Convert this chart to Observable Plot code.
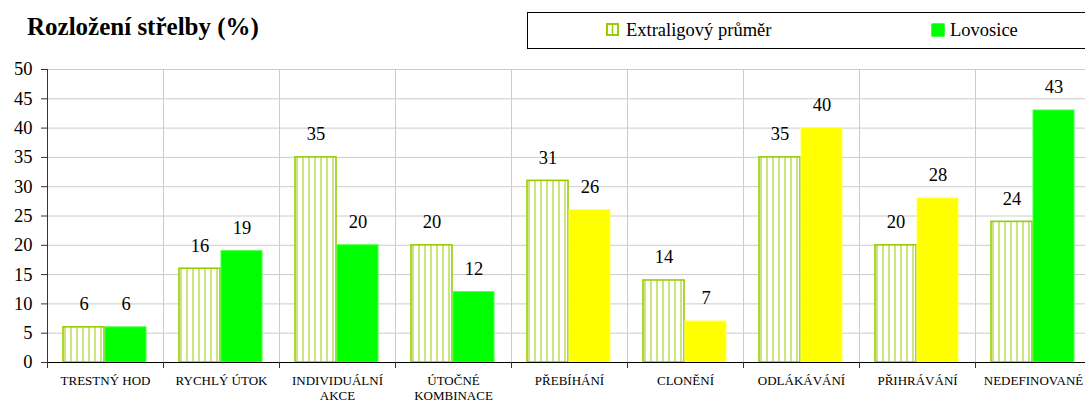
<!DOCTYPE html>
<html>
<head>
<meta charset="utf-8">
<script src="https://cdn.jsdelivr.net/npm/d3@7"></script>
<script src="https://cdn.jsdelivr.net/npm/@observablehq/plot@0.6"></script>
<style>
  html, body { margin: 0; padding: 0; background: #fff; overflow: hidden; width: 1085px; height: 403px; }
  #wrap { position: relative; width: 1085px; height: 403px; font-family: "Liberation Serif", "Times New Roman", serif; color: #000; }
  #title { position: absolute; left: 27px; top: 14px; font-size: 25px; line-height: 1; font-weight: bold; white-space: nowrap; }
  #legend { position: absolute; left: 527px; top: 12px; width: 620px; height: 37px; border: 1px solid #000; box-sizing: border-box; }
  .lg-text { position: absolute; font-size: 18.5px; line-height: 1; white-space: nowrap; }
  .lg-sw { position: absolute; }
  #chart { position: absolute; left: 0; top: 55px; width: 1100px; }
  #chart svg { max-width: none !important; width: 1100px; height: 348px; }
  #chart svg, #chart svg text { font-family: "Liberation Serif", "Times New Roman", serif !important; }
</style>
</head>
<body>
<div id="wrap">
  <div id="title"></div>
  <div id="legend"></div>
  <div id="chart"></div>
</div>
<script>
// ---- data ----
const title = "Rozložení střelby (%)";
const seriesNames = ["Extraligový průměr", "Lovosice"];
const categories = ["TRESTNÝ HOD", "RYCHLÝ ÚTOK", "INDIVIDUÁLNÍ AKCE", "ÚTOČNÉ KOMBINACE",
  "PŘEBÍHÁNÍ", "CLONĚNÍ", "ODLÁKÁVÁNÍ", "PŘIHRÁVÁNÍ", "NEDEFINOVANÉ"];
const categoryLabels = ["TRESTNÝ HOD", "RYCHLÝ ÚTOK", "INDIVIDUÁLNÍ\nAKCE", "ÚTOČNÉ\nKOMBINACE",
  "PŘEBÍHÁNÍ", "CLONĚNÍ", "ODLÁKÁVÁNÍ", "PŘIHRÁVÁNÍ", "NEDEFINOVANÉ"];
const avgValues = [6, 16, 35, 20, 31, 14, 35, 20, 24];
const teamValues = [6, 19, 20, 12, 26, 7, 40, 28, 43];
const yTicks = [0, 5, 10, 15, 20, 25, 30, 35, 40, 45, 50];

// ---- styles ----
const serif = "'Liberation Serif', 'Times New Roman', serif";
const hatchColor = "#99cc00";
const green = "#00ff00";
const yellow = "#ffff00";
const yellowCategories = new Set(["PŘEBÍHÁNÍ", "CLONĚNÍ", "ODLÁKÁVÁNÍ", "PŘIHRÁVÁNÍ"]);
const gridColor = "#cccccc";

const rows = categories.flatMap((c, i) => [
  {cat: c, series: seriesNames[0], value: avgValues[i]},
  {cat: c, series: seriesNames[1], value: teamValues[i]}
]);

document.getElementById("title").textContent = title;

// legend
const legend = document.getElementById("legend");
legend.innerHTML = `
  <svg class="lg-sw" style="left:78px;top:10px" width="13" height="13">
    <rect x="1" y="1" width="11" height="11" fill="#fff" stroke="${hatchColor}" stroke-width="2"/>
    <line x1="6.5" y1="1" x2="6.5" y2="12" stroke="${hatchColor}" stroke-width="1.5"/>
  </svg>
  <span class="lg-text" style="left:98px;top:8px">${seriesNames[0]}</span>
  <svg class="lg-sw" style="left:403px;top:10px" width="14" height="14">
    <rect x="0.5" y="0.5" width="13" height="13" rx="1" fill="${green}" stroke="#44ff44" stroke-width="1"/>
  </svg>
  <span class="lg-text" style="left:422px;top:8px">${seriesNames[1]}</span>`;

const plotHeight = 293;
const chart = Plot.plot({
  width: 1100,
  height: 348,
  marginTop: 14,
  marginBottom: 41,
  marginLeft: 45,
  marginRight: 8,
  style: `font-family: ${serif}; background: transparent; color: #000; overflow: visible; max-width: none;`,
  fx: {domain: categories, padding: 0, axis: null, label: null},
  x: {domain: seriesNames, paddingInner: 0.02, paddingOuter: 0.37, axis: null},
  y: {domain: [0, 50], axis: null},
  marks: [
    Plot.gridY({ticks: yTicks, stroke: gridColor, strokeOpacity: 1}),
    Plot.frame({anchor: "left", stroke: gridColor}),
    Plot.barY(rows, {
      fx: "cat", x: "series", y: "value",
      fill: d => d.series === seriesNames[0] ? "url(#hatch)" : (yellowCategories.has(d.cat) ? yellow : green),
      stroke: d => d.series === seriesNames[0] ? hatchColor : (yellowCategories.has(d.cat) ? "#ffff66" : "#44ff44"),
      strokeWidth: d => d.series === seriesNames[0] ? 1.6 : 1
    }),
    Plot.text(rows, {
      fx: "cat", x: "series", y: "value",
      text: d => String(Math.round(d.value)),
      dy: -23, fontSize: 18.5, fontFamily: serif, fill: "#000"
    }),
    Plot.ruleY([0], {stroke: "#000"}),
    Plot.frame({anchor: "left", stroke: "#333", insetTop: plotHeight, insetBottom: -5}),
    Plot.frame({anchor: "left", stroke: "#333", insetBottom: -5, facetAnchor: "left"}),
    Plot.axisY({ticks: yTicks, tickSize: 6, tickPadding: 9, fontSize: 18.5, fontFamily: serif, label: null, stroke: "#333"}),
    Plot.text(categories, {
      fx: d => d,
      text: d => categoryLabels[categories.indexOf(d)],
      frameAnchor: "bottom", lineAnchor: "top", dy: 11,
      fontSize: 13, fontFamily: serif, lineHeight: 1.2, fill: "#000"
    })
  ]
});

d3.select(chart).insert("defs", ":first-child").html(
  `<pattern id="hatch" patternUnits="userSpaceOnUse" width="6" height="10">
     <rect width="6" height="10" fill="#fff"/>
     <line x1="3" y1="0" x2="3" y2="10" stroke="${hatchColor}" stroke-width="1"/>
   </pattern>`
);

document.getElementById("chart").appendChild(chart);
</script>
</body>
</html>
